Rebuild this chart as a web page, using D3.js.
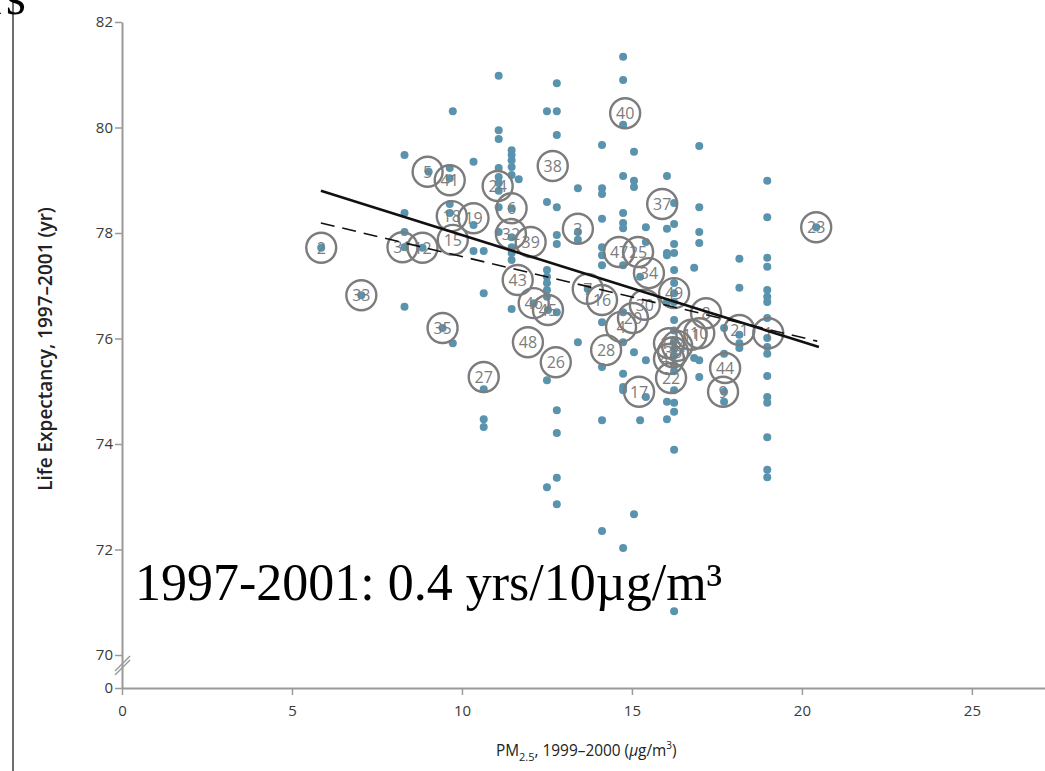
<!DOCTYPE html>
<html>
<head>
<meta charset="utf-8">
<script src="https://cdn.jsdelivr.net/npm/d3@7/dist/d3.min.js"></script>
<style>
  html, body { margin: 0; padding: 0; background: #fff; }
  svg { display: block; }
</style>
</head>
<body>
<svg id="chart" width="1045" height="771"></svg>
<script>
// PM2.5 level (µg/m³) of each column of county dots, and the life expectancies stacked in it
const columnPM = [5.86, 7.04, 8.31, 8.84, 9.02, 9.43, 9.64, 9.73, 10.34, 10.64, 11.08, 11.46, 11.67,
  12.11, 12.50, 12.53, 12.79, 13.41, 13.70, 14.12, 14.74, 15.06, 15.24, 15.41, 16.03, 16.24, 16.83,
  16.98, 17.71, 18.16, 18.98, 20.42];
const columnLife = [
  [77.72],
  [76.82],
  [79.48, 78.38, 78.02, 77.73, 76.60],
  [77.72],
  [79.16],
  [76.20],
  [79.23, 79.04, 78.55, 78.38],
  [80.31, 75.91],
  [79.35, 78.15, 77.66],
  [77.66, 76.86, 75.04, 74.47, 74.32],
  [80.98, 79.95, 79.78, 79.23, 79.06, 78.95, 78.80, 78.49, 78.02],
  [79.57, 79.48, 79.38, 79.25, 79.10, 78.47, 77.92, 77.73, 77.62, 77.49, 76.56],
  [79.02],
  [76.67],
  [80.31, 78.59, 77.30, 77.17, 77.05, 76.92, 76.79, 75.21, 73.18],
  [76.54],
  [80.84, 80.31, 79.86, 78.49, 77.96, 77.79, 76.50, 74.64, 74.21, 73.36, 72.86],
  [78.85, 78.02, 77.87, 75.93],
  [76.94],
  [79.67, 78.85, 78.74, 78.27, 77.73, 77.58, 77.39, 76.31, 75.46, 74.45, 72.35],
  [81.34, 80.90, 80.05, 79.08, 78.38, 78.19, 78.09, 77.39, 76.50, 75.93, 75.33, 75.08, 75.02, 72.03],
  [79.54, 78.99, 78.87, 75.74, 72.67],
  [77.17, 74.45],
  [78.11, 77.83, 75.59, 74.89],
  [79.08, 78.08, 77.62, 77.58, 76.69, 74.80, 74.47],
  [78.57, 78.17, 77.79, 77.62, 77.30, 77.05, 76.86, 76.69, 76.35, 76.15, 75.95, 75.80, 75.68,
   75.50, 75.38, 75.02, 74.78, 74.61, 73.89, 70.83],
  [77.34, 75.63],
  [79.65, 78.49, 78.02, 77.81, 75.59, 75.27],
  [76.20, 75.71, 74.99, 74.80],
  [77.51, 76.96, 76.07, 75.91, 75.82],
  [78.99, 78.30, 77.53, 77.36, 76.92, 76.79, 76.69, 76.39, 76.01, 75.84, 75.71, 75.29, 74.89,
   74.78, 74.13, 73.51, 73.37],
  [78.11]
];

// Numbered, circled cities: id, PM2.5, life expectancy
const cityIds = ["40", "38", "5", "41", "24", "37", "6", "3", "18", "19", "23", "15", "31", "12", "2",
  "32", "39", "47", "25", "34", "43", "7", "16", "30", "49", "8", "46", "45", "4", "20", "10", "21",
  "1", "35", "33", "48", "26", "28", "27", "17", "22", "44", "9", "13", "36", "42", "14", "11"];
const cityPM = [14.80, 12.67, 8.99, 9.64, 11.05, 15.89, 11.46, 13.41, 9.70, 10.34, 20.42, 9.73, 8.25,
  8.84, 5.86, 11.44, 12.02, 14.62, 15.18, 15.50, 11.64, 13.70, 14.12, 15.38, 16.24, 17.18, 12.11,
  12.53, 14.68, 15.03, 16.98, 18.16, 19.01, 9.43, 7.04, 11.94, 12.76, 14.24, 10.64, 15.21, 16.15,
  17.74, 17.68, 16.09, 16.21, 16.09, 16.33, 16.75];
const cityLife = [80.27, 79.27, 79.16, 79.00, 78.89, 78.55, 78.47, 78.08, 78.32, 78.28, 78.11, 77.87,
  77.73, 77.72, 77.72, 77.98, 77.83, 77.64, 77.64, 77.24, 77.11, 76.94, 76.73, 76.64, 76.86, 76.48,
  76.67, 76.54, 76.22, 76.39, 76.10, 76.16, 76.10, 76.20, 76.82, 75.93, 75.55, 75.78, 75.27, 74.99,
  75.25, 75.44, 74.99, 75.91, 75.74, 75.61, 75.86, 76.07];

// Regression fits: solid and dashed
const fitSolidPM = [5.85, 20.5];
const fitSolidLife = [78.80, 75.84];
const fitDashedPM = [5.85, 20.45];
const fitDashedLife = [78.19, 75.95];

const xTicks = [0, 5, 10, 15, 20, 25];
const yTicks = [0, 70, 72, 74, 76, 78, 80, 82];

const svg = d3.select("#chart");
const W = 1045, H = 771;

const x = d3.scaleLinear().domain([0, 27.15]).range([122, 1045]);
// broken axis: 0 then a jump to 70–82
const y = d3.scaleLinear().domain([0, 70, 82]).range([688, 655, 22]);

// left frame rule
svg.append("line").attr("x1", 13).attr("x2", 13).attr("y1", 0).attr("y2", H)
  .attr("stroke", "#6f6f6f").attr("stroke-width", 2);

// partial heading at the top-left edge
svg.append("text").attr("x", 26).attr("y", 14).attr("text-anchor", "end")
  .attr("font-family", "Liberation Serif, Times New Roman, serif").attr("font-size", 52)
  .attr("fill", "#000").text("yrs");

const tickFont = "Open Sans, Noto Sans, Liberation Sans, sans-serif";

// y axis
const yAxis = svg.append("g").attr("transform", `translate(${x(0)},0)`)
  .call(d3.axisLeft(y).tickValues(yTicks).tickSize(7).tickSizeOuter(0).tickFormat(d3.format("d")));
yAxis.select(".domain").attr("stroke", "#9a9a9a").attr("stroke-width", 2);
yAxis.selectAll(".tick line").attr("stroke", "#9a9a9a").attr("stroke-width", 1.5);
yAxis.selectAll(".tick text").attr("font-family", tickFont).attr("font-size", 15)
  .attr("fill", "#3a3a3a").attr("x", -9);

// axis-break marks
const by = y(70) + 12;
[0, 4].forEach(off => {
  svg.append("line")
    .attr("x1", x(0) - 7).attr("y1", by + 8 - off)
    .attr("x2", x(0) + 8).attr("y2", by - 7 - off)
    .attr("stroke", "#9a9a9a").attr("stroke-width", 1.5);
});

// x axis
const xAxis = svg.append("g").attr("transform", `translate(0,${y(0)})`)
  .call(d3.axisBottom(x).tickValues(xTicks).tickSize(7).tickSizeOuter(0));
xAxis.select(".domain").attr("stroke", "#9a9a9a").attr("stroke-width", 2);
xAxis.selectAll(".tick line").attr("stroke", "#9a9a9a").attr("stroke-width", 1.5);
xAxis.selectAll(".tick text").attr("font-family", tickFont).attr("font-size", 15)
  .attr("fill", "#3a3a3a").attr("dy", "1.2em");

// axis titles
const xt = svg.append("text").attr("x", x(11)).attr("y", 756).attr("text-anchor", "start")
  .attr("font-family", tickFont).attr("font-size", 15.4).attr("fill", "#222");
xt.append("tspan").text("PM");
xt.append("tspan").attr("font-size", 11).attr("dy", 5).text("2.5");
xt.append("tspan").attr("dy", -5).text(", 1999–2000 (");
xt.append("tspan").attr("font-style", "italic").text("µ");
xt.append("tspan").text("g/m");
xt.append("tspan").attr("font-size", 10).attr("dy", -7).text("3");
xt.append("tspan").attr("dy", 7).text(")");

svg.append("text")
  .attr("transform", "translate(52,349) rotate(-90)")
  .attr("text-anchor", "middle")
  .attr("font-family", tickFont).attr("font-size", 19).attr("font-weight", 600).attr("fill", "#222")
  .text("Life Expectancy, 1997–2001 (yr)");

// county dots
const dots = [];
columnPM.forEach((pm, i) => columnLife[i].forEach(le => dots.push({ pm, le })));
svg.append("g").selectAll("circle").data(dots).join("circle")
  .attr("cx", d => x(d.pm)).attr("cy", d => y(d.le)).attr("r", 4)
  .attr("fill", "#5a93ad");

// circled cities
const cities = cityIds.map((id, i) => ({ id, pm: cityPM[i], le: cityLife[i] }));
const cg = svg.append("g").selectAll("g").data(cities).join("g")
  .attr("transform", d => `translate(${x(d.pm)},${y(d.le)})`);
cg.append("circle").attr("r", 15).attr("fill", "none")
  .attr("stroke", "#7c7c7c").attr("stroke-width", 2.4);
cg.append("text").attr("text-anchor", "middle").attr("dy", "0.36em")
  .attr("font-family", tickFont).attr("font-size", 16).attr("fill", "#7c7c7c")
  .text(d => d.id);

// regression lines
const line = d3.line().x(d => x(d[0])).y(d => y(d[1]));
svg.append("path").datum(d3.zip(fitDashedPM, fitDashedLife)).attr("d", line)
  .attr("fill", "none").attr("stroke", "#111").attr("stroke-width", 1.6)
  .attr("stroke-dasharray", "14,8");
svg.append("path").datum(d3.zip(fitSolidPM, fitSolidLife)).attr("d", line)
  .attr("fill", "none").attr("stroke", "#111").attr("stroke-width", 2.6);

// slope annotation
svg.append("text").attr("x", 135).attr("y", 600)
  .attr("font-family", "Liberation Serif, Times New Roman, serif").attr("font-size", 52)
  .attr("fill", "#000").text("1997-2001: 0.4 yrs/10µg/m³");
</script>
</body>
</html>
